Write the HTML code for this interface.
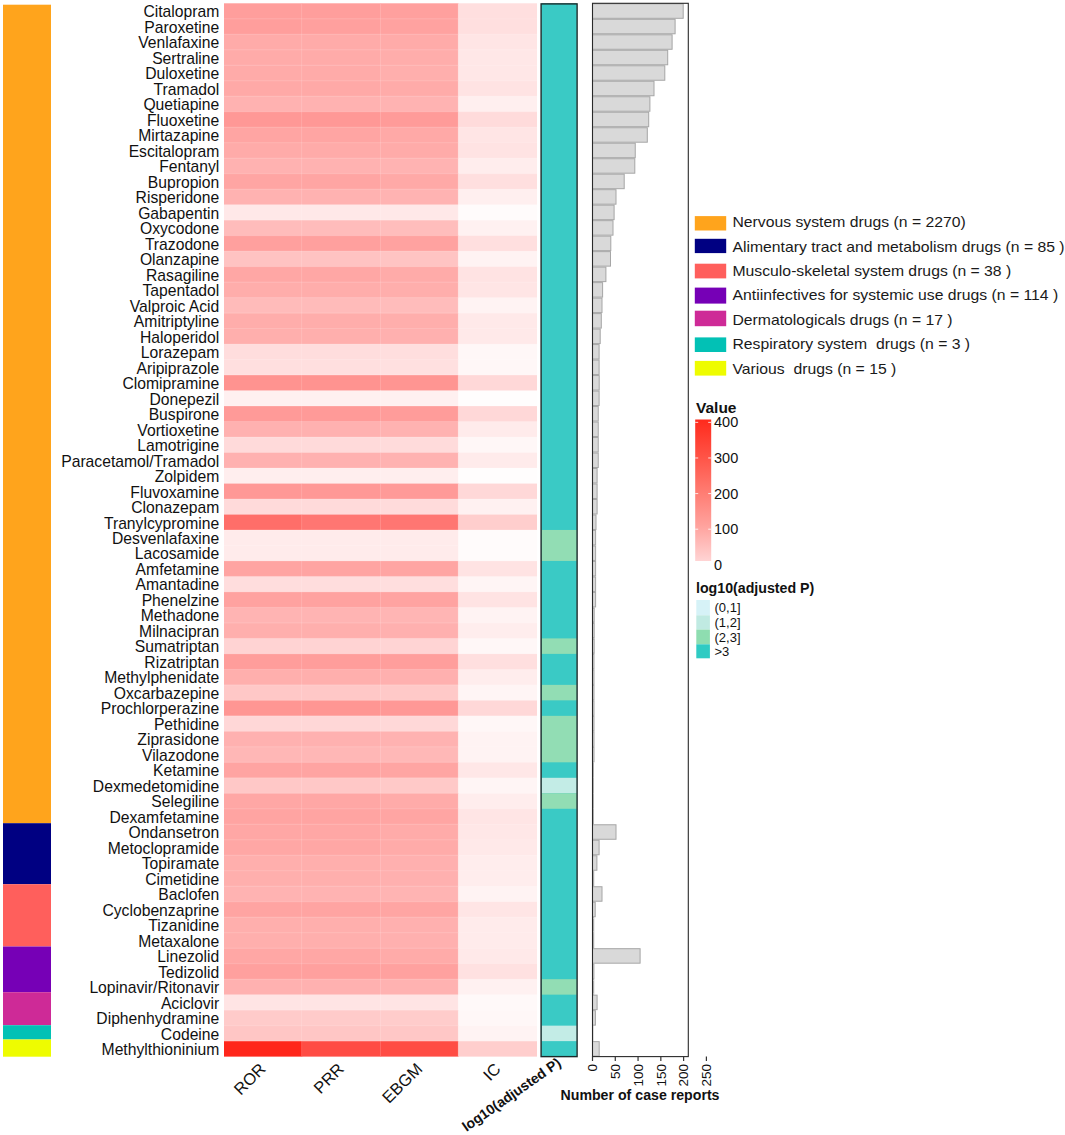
<!DOCTYPE html><html><head><meta charset="utf-8"><style>html,body{margin:0;padding:0;background:#fff;}</style></head><body><svg width="1065" height="1135" viewBox="0 0 1065 1135" style="display:block">
<rect x="0" y="0" width="1065" height="1135" fill="#fff"/>
<rect x="3" y="4.70" width="48" height="818.50" fill="#FFA41C"/>
<rect x="3" y="823.20" width="48" height="61.00" fill="#000082"/>
<rect x="3" y="884.20" width="48" height="62.30" fill="#FF5F5C"/>
<rect x="3" y="946.50" width="48" height="45.70" fill="#7600B6"/>
<rect x="3" y="992.20" width="48" height="33.00" fill="#CE2A97"/>
<rect x="3" y="1025.20" width="48" height="14.30" fill="#02C1B5"/>
<rect x="3" y="1039.50" width="48" height="17.20" fill="#EEFC00"/>
<rect x="224" y="3.30" width="78.20" height="16.090" fill="rgb(255,158,156)"/>
<rect x="301.6" y="3.30" width="79.50" height="16.090" fill="rgb(255,158,156)"/>
<rect x="380.5" y="3.30" width="78.30" height="16.090" fill="rgb(255,160,158)"/>
<rect x="458.2" y="3.30" width="78.80" height="16.090" fill="rgb(255,223,223)"/>
<rect x="224" y="18.79" width="78.20" height="16.090" fill="rgb(255,158,156)"/>
<rect x="301.6" y="18.79" width="79.50" height="16.090" fill="rgb(255,160,158)"/>
<rect x="380.5" y="18.79" width="78.30" height="16.090" fill="rgb(255,162,160)"/>
<rect x="458.2" y="18.79" width="78.80" height="16.090" fill="rgb(255,223,223)"/>
<rect x="224" y="34.28" width="78.20" height="16.090" fill="rgb(255,171,169)"/>
<rect x="301.6" y="34.28" width="79.50" height="16.090" fill="rgb(255,171,169)"/>
<rect x="380.5" y="34.28" width="78.30" height="16.090" fill="rgb(255,171,169)"/>
<rect x="458.2" y="34.28" width="78.80" height="16.090" fill="rgb(255,229,229)"/>
<rect x="224" y="49.77" width="78.20" height="16.090" fill="rgb(255,171,169)"/>
<rect x="301.6" y="49.77" width="79.50" height="16.090" fill="rgb(255,171,169)"/>
<rect x="380.5" y="49.77" width="78.30" height="16.090" fill="rgb(255,173,171)"/>
<rect x="458.2" y="49.77" width="78.80" height="16.090" fill="rgb(255,231,231)"/>
<rect x="224" y="65.26" width="78.20" height="16.090" fill="rgb(255,171,169)"/>
<rect x="301.6" y="65.26" width="79.50" height="16.090" fill="rgb(255,171,169)"/>
<rect x="380.5" y="65.26" width="78.30" height="16.090" fill="rgb(255,175,173)"/>
<rect x="458.2" y="65.26" width="78.80" height="16.090" fill="rgb(255,231,231)"/>
<rect x="224" y="80.75" width="78.20" height="16.090" fill="rgb(255,169,167)"/>
<rect x="301.6" y="80.75" width="79.50" height="16.090" fill="rgb(255,169,167)"/>
<rect x="380.5" y="80.75" width="78.30" height="16.090" fill="rgb(255,171,169)"/>
<rect x="458.2" y="80.75" width="78.80" height="16.090" fill="rgb(255,227,227)"/>
<rect x="224" y="96.24" width="78.20" height="16.090" fill="rgb(255,178,177)"/>
<rect x="301.6" y="96.24" width="79.50" height="16.090" fill="rgb(255,178,177)"/>
<rect x="380.5" y="96.24" width="78.30" height="16.090" fill="rgb(255,179,178)"/>
<rect x="458.2" y="96.24" width="78.80" height="16.090" fill="rgb(255,239,239)"/>
<rect x="224" y="111.73" width="78.20" height="16.090" fill="rgb(255,152,150)"/>
<rect x="301.6" y="111.73" width="79.50" height="16.090" fill="rgb(255,152,150)"/>
<rect x="380.5" y="111.73" width="78.30" height="16.090" fill="rgb(255,155,153)"/>
<rect x="458.2" y="111.73" width="78.80" height="16.090" fill="rgb(255,219,219)"/>
<rect x="224" y="127.22" width="78.20" height="16.090" fill="rgb(255,165,163)"/>
<rect x="301.6" y="127.22" width="79.50" height="16.090" fill="rgb(255,165,163)"/>
<rect x="380.5" y="127.22" width="78.30" height="16.090" fill="rgb(255,169,167)"/>
<rect x="458.2" y="127.22" width="78.80" height="16.090" fill="rgb(255,229,229)"/>
<rect x="224" y="142.71" width="78.20" height="16.090" fill="rgb(255,171,169)"/>
<rect x="301.6" y="142.71" width="79.50" height="16.090" fill="rgb(255,171,169)"/>
<rect x="380.5" y="142.71" width="78.30" height="16.090" fill="rgb(255,171,169)"/>
<rect x="458.2" y="142.71" width="78.80" height="16.090" fill="rgb(255,227,227)"/>
<rect x="224" y="158.20" width="78.20" height="16.090" fill="rgb(255,178,177)"/>
<rect x="301.6" y="158.20" width="79.50" height="16.090" fill="rgb(255,178,177)"/>
<rect x="380.5" y="158.20" width="78.30" height="16.090" fill="rgb(255,179,178)"/>
<rect x="458.2" y="158.20" width="78.80" height="16.090" fill="rgb(255,237,237)"/>
<rect x="224" y="173.69" width="78.20" height="16.090" fill="rgb(255,165,163)"/>
<rect x="301.6" y="173.69" width="79.50" height="16.090" fill="rgb(255,165,163)"/>
<rect x="380.5" y="173.69" width="78.30" height="16.090" fill="rgb(255,169,167)"/>
<rect x="458.2" y="173.69" width="78.80" height="16.090" fill="rgb(255,223,223)"/>
<rect x="224" y="189.18" width="78.20" height="16.090" fill="rgb(255,178,177)"/>
<rect x="301.6" y="189.18" width="79.50" height="16.090" fill="rgb(255,178,177)"/>
<rect x="380.5" y="189.18" width="78.30" height="16.090" fill="rgb(255,179,178)"/>
<rect x="458.2" y="189.18" width="78.80" height="16.090" fill="rgb(255,239,239)"/>
<rect x="224" y="204.67" width="78.20" height="16.090" fill="rgb(255,232,232)"/>
<rect x="301.6" y="204.67" width="79.50" height="16.090" fill="rgb(255,232,232)"/>
<rect x="380.5" y="204.67" width="78.30" height="16.090" fill="rgb(255,232,232)"/>
<rect x="458.2" y="204.67" width="78.80" height="16.090" fill="rgb(255,251,251)"/>
<rect x="224" y="220.16" width="78.20" height="16.090" fill="rgb(255,188,187)"/>
<rect x="301.6" y="220.16" width="79.50" height="16.090" fill="rgb(255,188,187)"/>
<rect x="380.5" y="220.16" width="78.30" height="16.090" fill="rgb(255,189,188)"/>
<rect x="458.2" y="220.16" width="78.80" height="16.090" fill="rgb(255,241,241)"/>
<rect x="224" y="235.65" width="78.20" height="16.090" fill="rgb(255,160,158)"/>
<rect x="301.6" y="235.65" width="79.50" height="16.090" fill="rgb(255,160,158)"/>
<rect x="380.5" y="235.65" width="78.30" height="16.090" fill="rgb(255,162,160)"/>
<rect x="458.2" y="235.65" width="78.80" height="16.090" fill="rgb(255,223,223)"/>
<rect x="224" y="251.14" width="78.20" height="16.090" fill="rgb(255,195,194)"/>
<rect x="301.6" y="251.14" width="79.50" height="16.090" fill="rgb(255,195,194)"/>
<rect x="380.5" y="251.14" width="78.30" height="16.090" fill="rgb(255,196,195)"/>
<rect x="458.2" y="251.14" width="78.80" height="16.090" fill="rgb(255,243,243)"/>
<rect x="224" y="266.63" width="78.20" height="16.090" fill="rgb(255,167,165)"/>
<rect x="301.6" y="266.63" width="79.50" height="16.090" fill="rgb(255,167,165)"/>
<rect x="380.5" y="266.63" width="78.30" height="16.090" fill="rgb(255,171,169)"/>
<rect x="458.2" y="266.63" width="78.80" height="16.090" fill="rgb(255,227,227)"/>
<rect x="224" y="282.12" width="78.20" height="16.090" fill="rgb(255,173,171)"/>
<rect x="301.6" y="282.12" width="79.50" height="16.090" fill="rgb(255,173,171)"/>
<rect x="380.5" y="282.12" width="78.30" height="16.090" fill="rgb(255,174,172)"/>
<rect x="458.2" y="282.12" width="78.80" height="16.090" fill="rgb(255,229,229)"/>
<rect x="224" y="297.61" width="78.20" height="16.090" fill="rgb(255,187,186)"/>
<rect x="301.6" y="297.61" width="79.50" height="16.090" fill="rgb(255,187,186)"/>
<rect x="380.5" y="297.61" width="78.30" height="16.090" fill="rgb(255,188,187)"/>
<rect x="458.2" y="297.61" width="78.80" height="16.090" fill="rgb(255,243,243)"/>
<rect x="224" y="313.10" width="78.20" height="16.090" fill="rgb(255,173,171)"/>
<rect x="301.6" y="313.10" width="79.50" height="16.090" fill="rgb(255,173,171)"/>
<rect x="380.5" y="313.10" width="78.30" height="16.090" fill="rgb(255,174,172)"/>
<rect x="458.2" y="313.10" width="78.80" height="16.090" fill="rgb(255,233,233)"/>
<rect x="224" y="328.59" width="78.20" height="16.090" fill="rgb(255,175,173)"/>
<rect x="301.6" y="328.59" width="79.50" height="16.090" fill="rgb(255,175,173)"/>
<rect x="380.5" y="328.59" width="78.30" height="16.090" fill="rgb(255,176,175)"/>
<rect x="458.2" y="328.59" width="78.80" height="16.090" fill="rgb(255,233,233)"/>
<rect x="224" y="344.08" width="78.20" height="16.090" fill="rgb(255,221,221)"/>
<rect x="301.6" y="344.08" width="79.50" height="16.090" fill="rgb(255,221,221)"/>
<rect x="380.5" y="344.08" width="78.30" height="16.090" fill="rgb(255,222,222)"/>
<rect x="458.2" y="344.08" width="78.80" height="16.090" fill="rgb(255,247,247)"/>
<rect x="224" y="359.57" width="78.20" height="16.090" fill="rgb(255,223,223)"/>
<rect x="301.6" y="359.57" width="79.50" height="16.090" fill="rgb(255,223,223)"/>
<rect x="380.5" y="359.57" width="78.30" height="16.090" fill="rgb(255,224,224)"/>
<rect x="458.2" y="359.57" width="78.80" height="16.090" fill="rgb(255,247,247)"/>
<rect x="224" y="375.06" width="78.20" height="16.090" fill="rgb(255,147,144)"/>
<rect x="301.6" y="375.06" width="79.50" height="16.090" fill="rgb(255,147,144)"/>
<rect x="380.5" y="375.06" width="78.30" height="16.090" fill="rgb(255,149,146)"/>
<rect x="458.2" y="375.06" width="78.80" height="16.090" fill="rgb(255,216,216)"/>
<rect x="224" y="390.55" width="78.20" height="16.090" fill="rgb(255,240,240)"/>
<rect x="301.6" y="390.55" width="79.50" height="16.090" fill="rgb(255,240,240)"/>
<rect x="380.5" y="390.55" width="78.30" height="16.090" fill="rgb(255,240,240)"/>
<rect x="458.2" y="390.55" width="78.80" height="16.090" fill="rgb(255,253,253)"/>
<rect x="224" y="406.04" width="78.20" height="16.090" fill="rgb(255,154,152)"/>
<rect x="301.6" y="406.04" width="79.50" height="16.090" fill="rgb(255,154,152)"/>
<rect x="380.5" y="406.04" width="78.30" height="16.090" fill="rgb(255,156,154)"/>
<rect x="458.2" y="406.04" width="78.80" height="16.090" fill="rgb(255,216,216)"/>
<rect x="224" y="421.53" width="78.20" height="16.090" fill="rgb(255,177,176)"/>
<rect x="301.6" y="421.53" width="79.50" height="16.090" fill="rgb(255,177,176)"/>
<rect x="380.5" y="421.53" width="78.30" height="16.090" fill="rgb(255,178,177)"/>
<rect x="458.2" y="421.53" width="78.80" height="16.090" fill="rgb(255,235,235)"/>
<rect x="224" y="437.02" width="78.20" height="16.090" fill="rgb(255,218,218)"/>
<rect x="301.6" y="437.02" width="79.50" height="16.090" fill="rgb(255,218,218)"/>
<rect x="380.5" y="437.02" width="78.30" height="16.090" fill="rgb(255,219,219)"/>
<rect x="458.2" y="437.02" width="78.80" height="16.090" fill="rgb(255,247,247)"/>
<rect x="224" y="452.51" width="78.20" height="16.090" fill="rgb(255,177,176)"/>
<rect x="301.6" y="452.51" width="79.50" height="16.090" fill="rgb(255,177,176)"/>
<rect x="380.5" y="452.51" width="78.30" height="16.090" fill="rgb(255,178,177)"/>
<rect x="458.2" y="452.51" width="78.80" height="16.090" fill="rgb(255,235,235)"/>
<rect x="224" y="468.00" width="78.20" height="16.090" fill="rgb(255,238,238)"/>
<rect x="301.6" y="468.00" width="79.50" height="16.090" fill="rgb(255,238,238)"/>
<rect x="380.5" y="468.00" width="78.30" height="16.090" fill="rgb(255,238,238)"/>
<rect x="458.2" y="468.00" width="78.80" height="16.090" fill="rgb(255,253,253)"/>
<rect x="224" y="483.49" width="78.20" height="16.090" fill="rgb(255,152,150)"/>
<rect x="301.6" y="483.49" width="79.50" height="16.090" fill="rgb(255,152,150)"/>
<rect x="380.5" y="483.49" width="78.30" height="16.090" fill="rgb(255,154,152)"/>
<rect x="458.2" y="483.49" width="78.80" height="16.090" fill="rgb(255,216,216)"/>
<rect x="224" y="498.98" width="78.20" height="16.090" fill="rgb(255,218,218)"/>
<rect x="301.6" y="498.98" width="79.50" height="16.090" fill="rgb(255,218,218)"/>
<rect x="380.5" y="498.98" width="78.30" height="16.090" fill="rgb(255,219,219)"/>
<rect x="458.2" y="498.98" width="78.80" height="16.090" fill="rgb(255,241,241)"/>
<rect x="224" y="514.47" width="78.20" height="16.090" fill="rgb(255,110,105)"/>
<rect x="301.6" y="514.47" width="79.50" height="16.090" fill="rgb(255,118,114)"/>
<rect x="380.5" y="514.47" width="78.30" height="16.090" fill="rgb(255,118,114)"/>
<rect x="458.2" y="514.47" width="78.80" height="16.090" fill="rgb(255,206,205)"/>
<rect x="224" y="529.96" width="78.20" height="16.090" fill="rgb(255,235,235)"/>
<rect x="301.6" y="529.96" width="79.50" height="16.090" fill="rgb(255,235,235)"/>
<rect x="380.5" y="529.96" width="78.30" height="16.090" fill="rgb(255,235,235)"/>
<rect x="458.2" y="529.96" width="78.80" height="16.090" fill="rgb(255,251,251)"/>
<rect x="224" y="545.45" width="78.20" height="16.090" fill="rgb(255,235,235)"/>
<rect x="301.6" y="545.45" width="79.50" height="16.090" fill="rgb(255,235,235)"/>
<rect x="380.5" y="545.45" width="78.30" height="16.090" fill="rgb(255,235,235)"/>
<rect x="458.2" y="545.45" width="78.80" height="16.090" fill="rgb(255,251,251)"/>
<rect x="224" y="560.94" width="78.20" height="16.090" fill="rgb(255,164,162)"/>
<rect x="301.6" y="560.94" width="79.50" height="16.090" fill="rgb(255,164,162)"/>
<rect x="380.5" y="560.94" width="78.30" height="16.090" fill="rgb(255,165,163)"/>
<rect x="458.2" y="560.94" width="78.80" height="16.090" fill="rgb(255,227,227)"/>
<rect x="224" y="576.43" width="78.20" height="16.090" fill="rgb(255,221,221)"/>
<rect x="301.6" y="576.43" width="79.50" height="16.090" fill="rgb(255,221,221)"/>
<rect x="380.5" y="576.43" width="78.30" height="16.090" fill="rgb(255,222,222)"/>
<rect x="458.2" y="576.43" width="78.80" height="16.090" fill="rgb(255,245,245)"/>
<rect x="224" y="591.92" width="78.20" height="16.090" fill="rgb(255,162,160)"/>
<rect x="301.6" y="591.92" width="79.50" height="16.090" fill="rgb(255,162,160)"/>
<rect x="380.5" y="591.92" width="78.30" height="16.090" fill="rgb(255,163,161)"/>
<rect x="458.2" y="591.92" width="78.80" height="16.090" fill="rgb(255,227,227)"/>
<rect x="224" y="607.41" width="78.20" height="16.090" fill="rgb(255,180,179)"/>
<rect x="301.6" y="607.41" width="79.50" height="16.090" fill="rgb(255,180,179)"/>
<rect x="380.5" y="607.41" width="78.30" height="16.090" fill="rgb(255,181,180)"/>
<rect x="458.2" y="607.41" width="78.80" height="16.090" fill="rgb(255,243,243)"/>
<rect x="224" y="622.90" width="78.20" height="16.090" fill="rgb(255,175,173)"/>
<rect x="301.6" y="622.90" width="79.50" height="16.090" fill="rgb(255,175,173)"/>
<rect x="380.5" y="622.90" width="78.30" height="16.090" fill="rgb(255,176,175)"/>
<rect x="458.2" y="622.90" width="78.80" height="16.090" fill="rgb(255,237,237)"/>
<rect x="224" y="638.39" width="78.20" height="16.090" fill="rgb(255,211,211)"/>
<rect x="301.6" y="638.39" width="79.50" height="16.090" fill="rgb(255,211,211)"/>
<rect x="380.5" y="638.39" width="78.30" height="16.090" fill="rgb(255,212,212)"/>
<rect x="458.2" y="638.39" width="78.80" height="16.090" fill="rgb(255,247,247)"/>
<rect x="224" y="653.88" width="78.20" height="16.090" fill="rgb(255,157,155)"/>
<rect x="301.6" y="653.88" width="79.50" height="16.090" fill="rgb(255,157,155)"/>
<rect x="380.5" y="653.88" width="78.30" height="16.090" fill="rgb(255,158,156)"/>
<rect x="458.2" y="653.88" width="78.80" height="16.090" fill="rgb(255,223,223)"/>
<rect x="224" y="669.37" width="78.20" height="16.090" fill="rgb(255,175,173)"/>
<rect x="301.6" y="669.37" width="79.50" height="16.090" fill="rgb(255,175,173)"/>
<rect x="380.5" y="669.37" width="78.30" height="16.090" fill="rgb(255,176,175)"/>
<rect x="458.2" y="669.37" width="78.80" height="16.090" fill="rgb(255,237,237)"/>
<rect x="224" y="684.86" width="78.20" height="16.090" fill="rgb(255,200,199)"/>
<rect x="301.6" y="684.86" width="79.50" height="16.090" fill="rgb(255,200,199)"/>
<rect x="380.5" y="684.86" width="78.30" height="16.090" fill="rgb(255,201,200)"/>
<rect x="458.2" y="684.86" width="78.80" height="16.090" fill="rgb(255,245,245)"/>
<rect x="224" y="700.35" width="78.20" height="16.090" fill="rgb(255,150,147)"/>
<rect x="301.6" y="700.35" width="79.50" height="16.090" fill="rgb(255,150,147)"/>
<rect x="380.5" y="700.35" width="78.30" height="16.090" fill="rgb(255,152,150)"/>
<rect x="458.2" y="700.35" width="78.80" height="16.090" fill="rgb(255,216,216)"/>
<rect x="224" y="715.84" width="78.20" height="16.090" fill="rgb(255,215,215)"/>
<rect x="301.6" y="715.84" width="79.50" height="16.090" fill="rgb(255,215,215)"/>
<rect x="380.5" y="715.84" width="78.30" height="16.090" fill="rgb(255,216,216)"/>
<rect x="458.2" y="715.84" width="78.80" height="16.090" fill="rgb(255,247,247)"/>
<rect x="224" y="731.33" width="78.20" height="16.090" fill="rgb(255,177,176)"/>
<rect x="301.6" y="731.33" width="79.50" height="16.090" fill="rgb(255,177,176)"/>
<rect x="380.5" y="731.33" width="78.30" height="16.090" fill="rgb(255,178,177)"/>
<rect x="458.2" y="731.33" width="78.80" height="16.090" fill="rgb(255,243,243)"/>
<rect x="224" y="746.82" width="78.20" height="16.090" fill="rgb(255,183,182)"/>
<rect x="301.6" y="746.82" width="79.50" height="16.090" fill="rgb(255,183,182)"/>
<rect x="380.5" y="746.82" width="78.30" height="16.090" fill="rgb(255,184,183)"/>
<rect x="458.2" y="746.82" width="78.80" height="16.090" fill="rgb(255,243,243)"/>
<rect x="224" y="762.31" width="78.20" height="16.090" fill="rgb(255,164,162)"/>
<rect x="301.6" y="762.31" width="79.50" height="16.090" fill="rgb(255,164,162)"/>
<rect x="380.5" y="762.31" width="78.30" height="16.090" fill="rgb(255,165,163)"/>
<rect x="458.2" y="762.31" width="78.80" height="16.090" fill="rgb(255,231,231)"/>
<rect x="224" y="777.80" width="78.20" height="16.090" fill="rgb(255,200,199)"/>
<rect x="301.6" y="777.80" width="79.50" height="16.090" fill="rgb(255,200,199)"/>
<rect x="380.5" y="777.80" width="78.30" height="16.090" fill="rgb(255,201,200)"/>
<rect x="458.2" y="777.80" width="78.80" height="16.090" fill="rgb(255,245,245)"/>
<rect x="224" y="793.29" width="78.20" height="16.090" fill="rgb(255,167,165)"/>
<rect x="301.6" y="793.29" width="79.50" height="16.090" fill="rgb(255,167,165)"/>
<rect x="380.5" y="793.29" width="78.30" height="16.090" fill="rgb(255,171,169)"/>
<rect x="458.2" y="793.29" width="78.80" height="16.090" fill="rgb(255,237,237)"/>
<rect x="224" y="808.78" width="78.20" height="16.090" fill="rgb(255,164,162)"/>
<rect x="301.6" y="808.78" width="79.50" height="16.090" fill="rgb(255,164,162)"/>
<rect x="380.5" y="808.78" width="78.30" height="16.090" fill="rgb(255,165,163)"/>
<rect x="458.2" y="808.78" width="78.80" height="16.090" fill="rgb(255,229,229)"/>
<rect x="224" y="824.27" width="78.20" height="16.090" fill="rgb(255,167,165)"/>
<rect x="301.6" y="824.27" width="79.50" height="16.090" fill="rgb(255,167,165)"/>
<rect x="380.5" y="824.27" width="78.30" height="16.090" fill="rgb(255,171,169)"/>
<rect x="458.2" y="824.27" width="78.80" height="16.090" fill="rgb(255,231,231)"/>
<rect x="224" y="839.76" width="78.20" height="16.090" fill="rgb(255,167,165)"/>
<rect x="301.6" y="839.76" width="79.50" height="16.090" fill="rgb(255,167,165)"/>
<rect x="380.5" y="839.76" width="78.30" height="16.090" fill="rgb(255,171,169)"/>
<rect x="458.2" y="839.76" width="78.80" height="16.090" fill="rgb(255,233,233)"/>
<rect x="224" y="855.25" width="78.20" height="16.090" fill="rgb(255,175,173)"/>
<rect x="301.6" y="855.25" width="79.50" height="16.090" fill="rgb(255,175,173)"/>
<rect x="380.5" y="855.25" width="78.30" height="16.090" fill="rgb(255,176,175)"/>
<rect x="458.2" y="855.25" width="78.80" height="16.090" fill="rgb(255,237,237)"/>
<rect x="224" y="870.74" width="78.20" height="16.090" fill="rgb(255,175,173)"/>
<rect x="301.6" y="870.74" width="79.50" height="16.090" fill="rgb(255,175,173)"/>
<rect x="380.5" y="870.74" width="78.30" height="16.090" fill="rgb(255,176,175)"/>
<rect x="458.2" y="870.74" width="78.80" height="16.090" fill="rgb(255,237,237)"/>
<rect x="224" y="886.23" width="78.20" height="16.090" fill="rgb(255,179,178)"/>
<rect x="301.6" y="886.23" width="79.50" height="16.090" fill="rgb(255,179,178)"/>
<rect x="380.5" y="886.23" width="78.30" height="16.090" fill="rgb(255,180,179)"/>
<rect x="458.2" y="886.23" width="78.80" height="16.090" fill="rgb(255,243,243)"/>
<rect x="224" y="901.72" width="78.20" height="16.090" fill="rgb(255,164,162)"/>
<rect x="301.6" y="901.72" width="79.50" height="16.090" fill="rgb(255,164,162)"/>
<rect x="380.5" y="901.72" width="78.30" height="16.090" fill="rgb(255,165,163)"/>
<rect x="458.2" y="901.72" width="78.80" height="16.090" fill="rgb(255,229,229)"/>
<rect x="224" y="917.21" width="78.20" height="16.090" fill="rgb(255,175,173)"/>
<rect x="301.6" y="917.21" width="79.50" height="16.090" fill="rgb(255,175,173)"/>
<rect x="380.5" y="917.21" width="78.30" height="16.090" fill="rgb(255,176,175)"/>
<rect x="458.2" y="917.21" width="78.80" height="16.090" fill="rgb(255,235,235)"/>
<rect x="224" y="932.70" width="78.20" height="16.090" fill="rgb(255,175,173)"/>
<rect x="301.6" y="932.70" width="79.50" height="16.090" fill="rgb(255,175,173)"/>
<rect x="380.5" y="932.70" width="78.30" height="16.090" fill="rgb(255,176,175)"/>
<rect x="458.2" y="932.70" width="78.80" height="16.090" fill="rgb(255,235,235)"/>
<rect x="224" y="948.19" width="78.20" height="16.090" fill="rgb(255,167,165)"/>
<rect x="301.6" y="948.19" width="79.50" height="16.090" fill="rgb(255,167,165)"/>
<rect x="380.5" y="948.19" width="78.30" height="16.090" fill="rgb(255,171,169)"/>
<rect x="458.2" y="948.19" width="78.80" height="16.090" fill="rgb(255,233,233)"/>
<rect x="224" y="963.68" width="78.20" height="16.090" fill="rgb(255,160,158)"/>
<rect x="301.6" y="963.68" width="79.50" height="16.090" fill="rgb(255,160,158)"/>
<rect x="380.5" y="963.68" width="78.30" height="16.090" fill="rgb(255,161,159)"/>
<rect x="458.2" y="963.68" width="78.80" height="16.090" fill="rgb(255,225,225)"/>
<rect x="224" y="979.17" width="78.20" height="16.090" fill="rgb(255,177,176)"/>
<rect x="301.6" y="979.17" width="79.50" height="16.090" fill="rgb(255,177,176)"/>
<rect x="380.5" y="979.17" width="78.30" height="16.090" fill="rgb(255,178,177)"/>
<rect x="458.2" y="979.17" width="78.80" height="16.090" fill="rgb(255,241,241)"/>
<rect x="224" y="994.66" width="78.20" height="16.090" fill="rgb(255,228,228)"/>
<rect x="301.6" y="994.66" width="79.50" height="16.090" fill="rgb(255,228,228)"/>
<rect x="380.5" y="994.66" width="78.30" height="16.090" fill="rgb(255,228,228)"/>
<rect x="458.2" y="994.66" width="78.80" height="16.090" fill="rgb(255,249,249)"/>
<rect x="224" y="1010.15" width="78.20" height="16.090" fill="rgb(255,203,202)"/>
<rect x="301.6" y="1010.15" width="79.50" height="16.090" fill="rgb(255,203,202)"/>
<rect x="380.5" y="1010.15" width="78.30" height="16.090" fill="rgb(255,204,203)"/>
<rect x="458.2" y="1010.15" width="78.80" height="16.090" fill="rgb(255,247,247)"/>
<rect x="224" y="1025.64" width="78.20" height="16.090" fill="rgb(255,198,197)"/>
<rect x="301.6" y="1025.64" width="79.50" height="16.090" fill="rgb(255,198,197)"/>
<rect x="380.5" y="1025.64" width="78.30" height="16.090" fill="rgb(255,199,198)"/>
<rect x="458.2" y="1025.64" width="78.80" height="16.090" fill="rgb(255,243,243)"/>
<rect x="224" y="1041.13" width="78.20" height="15.490" fill="rgb(255,38,27)"/>
<rect x="301.6" y="1041.13" width="79.50" height="15.490" fill="rgb(255,76,68)"/>
<rect x="380.5" y="1041.13" width="78.30" height="15.490" fill="rgb(255,76,68)"/>
<rect x="458.2" y="1041.13" width="78.80" height="15.490" fill="rgb(255,206,205)"/>
<rect x="224" y="18.29" width="313" height="1" fill="#fff" fill-opacity="0.16"/>
<rect x="224" y="33.78" width="313" height="1" fill="#fff" fill-opacity="0.16"/>
<rect x="224" y="49.27" width="313" height="1" fill="#fff" fill-opacity="0.16"/>
<rect x="224" y="64.76" width="313" height="1" fill="#fff" fill-opacity="0.16"/>
<rect x="224" y="80.25" width="313" height="1" fill="#fff" fill-opacity="0.16"/>
<rect x="224" y="95.74" width="313" height="1" fill="#fff" fill-opacity="0.16"/>
<rect x="224" y="111.23" width="313" height="1" fill="#fff" fill-opacity="0.16"/>
<rect x="224" y="126.72" width="313" height="1" fill="#fff" fill-opacity="0.16"/>
<rect x="224" y="142.21" width="313" height="1" fill="#fff" fill-opacity="0.16"/>
<rect x="224" y="157.70" width="313" height="1" fill="#fff" fill-opacity="0.16"/>
<rect x="224" y="173.19" width="313" height="1" fill="#fff" fill-opacity="0.16"/>
<rect x="224" y="188.68" width="313" height="1" fill="#fff" fill-opacity="0.16"/>
<rect x="224" y="204.17" width="313" height="1" fill="#fff" fill-opacity="0.16"/>
<rect x="224" y="219.66" width="313" height="1" fill="#fff" fill-opacity="0.16"/>
<rect x="224" y="235.15" width="313" height="1" fill="#fff" fill-opacity="0.16"/>
<rect x="224" y="250.64" width="313" height="1" fill="#fff" fill-opacity="0.16"/>
<rect x="224" y="266.13" width="313" height="1" fill="#fff" fill-opacity="0.16"/>
<rect x="224" y="281.62" width="313" height="1" fill="#fff" fill-opacity="0.16"/>
<rect x="224" y="297.11" width="313" height="1" fill="#fff" fill-opacity="0.16"/>
<rect x="224" y="312.60" width="313" height="1" fill="#fff" fill-opacity="0.16"/>
<rect x="224" y="328.09" width="313" height="1" fill="#fff" fill-opacity="0.16"/>
<rect x="224" y="343.58" width="313" height="1" fill="#fff" fill-opacity="0.16"/>
<rect x="224" y="359.07" width="313" height="1" fill="#fff" fill-opacity="0.16"/>
<rect x="224" y="374.56" width="313" height="1" fill="#fff" fill-opacity="0.16"/>
<rect x="224" y="390.05" width="313" height="1" fill="#fff" fill-opacity="0.16"/>
<rect x="224" y="405.54" width="313" height="1" fill="#fff" fill-opacity="0.16"/>
<rect x="224" y="421.03" width="313" height="1" fill="#fff" fill-opacity="0.16"/>
<rect x="224" y="436.52" width="313" height="1" fill="#fff" fill-opacity="0.16"/>
<rect x="224" y="452.01" width="313" height="1" fill="#fff" fill-opacity="0.16"/>
<rect x="224" y="467.50" width="313" height="1" fill="#fff" fill-opacity="0.16"/>
<rect x="224" y="482.99" width="313" height="1" fill="#fff" fill-opacity="0.16"/>
<rect x="224" y="498.48" width="313" height="1" fill="#fff" fill-opacity="0.16"/>
<rect x="224" y="513.97" width="313" height="1" fill="#fff" fill-opacity="0.16"/>
<rect x="224" y="529.46" width="313" height="1" fill="#fff" fill-opacity="0.16"/>
<rect x="224" y="544.95" width="313" height="1" fill="#fff" fill-opacity="0.16"/>
<rect x="224" y="560.44" width="313" height="1" fill="#fff" fill-opacity="0.16"/>
<rect x="224" y="575.93" width="313" height="1" fill="#fff" fill-opacity="0.16"/>
<rect x="224" y="591.42" width="313" height="1" fill="#fff" fill-opacity="0.16"/>
<rect x="224" y="606.91" width="313" height="1" fill="#fff" fill-opacity="0.16"/>
<rect x="224" y="622.40" width="313" height="1" fill="#fff" fill-opacity="0.16"/>
<rect x="224" y="637.89" width="313" height="1" fill="#fff" fill-opacity="0.16"/>
<rect x="224" y="653.38" width="313" height="1" fill="#fff" fill-opacity="0.16"/>
<rect x="224" y="668.87" width="313" height="1" fill="#fff" fill-opacity="0.16"/>
<rect x="224" y="684.36" width="313" height="1" fill="#fff" fill-opacity="0.16"/>
<rect x="224" y="699.85" width="313" height="1" fill="#fff" fill-opacity="0.16"/>
<rect x="224" y="715.34" width="313" height="1" fill="#fff" fill-opacity="0.16"/>
<rect x="224" y="730.83" width="313" height="1" fill="#fff" fill-opacity="0.16"/>
<rect x="224" y="746.32" width="313" height="1" fill="#fff" fill-opacity="0.16"/>
<rect x="224" y="761.81" width="313" height="1" fill="#fff" fill-opacity="0.16"/>
<rect x="224" y="777.30" width="313" height="1" fill="#fff" fill-opacity="0.16"/>
<rect x="224" y="792.79" width="313" height="1" fill="#fff" fill-opacity="0.16"/>
<rect x="224" y="808.28" width="313" height="1" fill="#fff" fill-opacity="0.16"/>
<rect x="224" y="823.77" width="313" height="1" fill="#fff" fill-opacity="0.16"/>
<rect x="224" y="839.26" width="313" height="1" fill="#fff" fill-opacity="0.16"/>
<rect x="224" y="854.75" width="313" height="1" fill="#fff" fill-opacity="0.16"/>
<rect x="224" y="870.24" width="313" height="1" fill="#fff" fill-opacity="0.16"/>
<rect x="224" y="885.73" width="313" height="1" fill="#fff" fill-opacity="0.16"/>
<rect x="224" y="901.22" width="313" height="1" fill="#fff" fill-opacity="0.16"/>
<rect x="224" y="916.71" width="313" height="1" fill="#fff" fill-opacity="0.16"/>
<rect x="224" y="932.20" width="313" height="1" fill="#fff" fill-opacity="0.16"/>
<rect x="224" y="947.69" width="313" height="1" fill="#fff" fill-opacity="0.16"/>
<rect x="224" y="963.18" width="313" height="1" fill="#fff" fill-opacity="0.16"/>
<rect x="224" y="978.67" width="313" height="1" fill="#fff" fill-opacity="0.16"/>
<rect x="224" y="994.16" width="313" height="1" fill="#fff" fill-opacity="0.16"/>
<rect x="224" y="1009.65" width="313" height="1" fill="#fff" fill-opacity="0.16"/>
<rect x="224" y="1025.14" width="313" height="1" fill="#fff" fill-opacity="0.16"/>
<rect x="224" y="1040.63" width="313" height="1" fill="#fff" fill-opacity="0.16"/>
<rect x="301.1" y="3.3" width="1" height="1053.32" fill="#fff" fill-opacity="0.16"/>
<rect x="380.0" y="3.3" width="1" height="1053.32" fill="#fff" fill-opacity="0.16"/>
<rect x="457.7" y="3.3" width="1" height="1053.32" fill="#fff" fill-opacity="0.16"/>
<g font-family="Liberation Sans, sans-serif" font-size="15.7" fill="#111" text-anchor="end">
<text x="219.3" y="17.34">Citalopram</text>
<text x="219.3" y="32.84">Paroxetine</text>
<text x="219.3" y="48.32">Venlafaxine</text>
<text x="219.3" y="63.81">Sertraline</text>
<text x="219.3" y="79.31">Duloxetine</text>
<text x="219.3" y="94.80">Tramadol</text>
<text x="219.3" y="110.28">Quetiapine</text>
<text x="219.3" y="125.78">Fluoxetine</text>
<text x="219.3" y="141.27">Mirtazapine</text>
<text x="219.3" y="156.76">Escitalopram</text>
<text x="219.3" y="172.25">Fentanyl</text>
<text x="219.3" y="187.74">Bupropion</text>
<text x="219.3" y="203.23">Risperidone</text>
<text x="219.3" y="218.72">Gabapentin</text>
<text x="219.3" y="234.21">Oxycodone</text>
<text x="219.3" y="249.70">Trazodone</text>
<text x="219.3" y="265.19">Olanzapine</text>
<text x="219.3" y="280.68">Rasagiline</text>
<text x="219.3" y="296.17">Tapentadol</text>
<text x="219.3" y="311.66">Valproic Acid</text>
<text x="219.3" y="327.15">Amitriptyline</text>
<text x="219.3" y="342.64">Haloperidol</text>
<text x="219.3" y="358.13">Lorazepam</text>
<text x="219.3" y="373.62">Aripiprazole</text>
<text x="219.3" y="389.11">Clomipramine</text>
<text x="219.3" y="404.60">Donepezil</text>
<text x="219.3" y="420.09">Buspirone</text>
<text x="219.3" y="435.58">Vortioxetine</text>
<text x="219.3" y="451.07">Lamotrigine</text>
<text x="219.3" y="466.56">Paracetamol/Tramadol</text>
<text x="219.3" y="482.05">Zolpidem</text>
<text x="219.3" y="497.54">Fluvoxamine</text>
<text x="219.3" y="513.02">Clonazepam</text>
<text x="219.3" y="528.51">Tranylcypromine</text>
<text x="219.3" y="544.00">Desvenlafaxine</text>
<text x="219.3" y="559.49">Lacosamide</text>
<text x="219.3" y="574.98">Amfetamine</text>
<text x="219.3" y="590.47">Amantadine</text>
<text x="219.3" y="605.96">Phenelzine</text>
<text x="219.3" y="621.45">Methadone</text>
<text x="219.3" y="636.94">Milnacipran</text>
<text x="219.3" y="652.43">Sumatriptan</text>
<text x="219.3" y="667.92">Rizatriptan</text>
<text x="219.3" y="683.41">Methylphenidate</text>
<text x="219.3" y="698.90">Oxcarbazepine</text>
<text x="219.3" y="714.39">Prochlorperazine</text>
<text x="219.3" y="729.88">Pethidine</text>
<text x="219.3" y="745.37">Ziprasidone</text>
<text x="219.3" y="760.86">Vilazodone</text>
<text x="219.3" y="776.35">Ketamine</text>
<text x="219.3" y="791.84">Dexmedetomidine</text>
<text x="219.3" y="807.33">Selegiline</text>
<text x="219.3" y="822.82">Dexamfetamine</text>
<text x="219.3" y="838.31">Ondansetron</text>
<text x="219.3" y="853.80">Metoclopramide</text>
<text x="219.3" y="869.29">Topiramate</text>
<text x="219.3" y="884.78">Cimetidine</text>
<text x="219.3" y="900.27">Baclofen</text>
<text x="219.3" y="915.76">Cyclobenzaprine</text>
<text x="219.3" y="931.25">Tizanidine</text>
<text x="219.3" y="946.74">Metaxalone</text>
<text x="219.3" y="962.23">Linezolid</text>
<text x="219.3" y="977.72">Tedizolid</text>
<text x="219.3" y="993.21">Lopinavir/Ritonavir</text>
<text x="219.3" y="1008.70">Aciclovir</text>
<text x="219.3" y="1024.19">Diphenhydramine</text>
<text x="219.3" y="1039.68">Codeine</text>
<text x="219.3" y="1055.17">Methylthioninium</text>
</g>
<rect x="541.3" y="3.30" width="35.6" height="1053.320" fill="#3ACAC5"/>
<rect x="541.3" y="529.96" width="35.6" height="30.980" fill="#92DDB4"/>
<rect x="541.3" y="638.39" width="35.6" height="15.490" fill="#92DDB4"/>
<rect x="541.3" y="684.86" width="35.6" height="15.490" fill="#92DDB4"/>
<rect x="541.3" y="715.84" width="35.6" height="46.470" fill="#92DDB4"/>
<rect x="541.3" y="777.80" width="35.6" height="15.490" fill="#C3ECE6"/>
<rect x="541.3" y="793.29" width="35.6" height="15.490" fill="#92DDB4"/>
<rect x="541.3" y="979.17" width="35.6" height="15.490" fill="#92DDB4"/>
<rect x="541.3" y="1025.64" width="35.6" height="15.490" fill="#C3ECE6"/>
<rect x="541.1" y="3.90" width="36" height="1052.72" fill="none" stroke="#1a2a2a" stroke-width="1.4"/>
<rect x="592.5" y="3.80" width="90.70" height="14.490" fill="#D9D9D9" stroke="#A6A6A6" stroke-width="1"/>
<rect x="592.5" y="19.29" width="82.60" height="14.490" fill="#D9D9D9" stroke="#A6A6A6" stroke-width="1"/>
<rect x="592.5" y="34.78" width="79.60" height="14.490" fill="#D9D9D9" stroke="#A6A6A6" stroke-width="1"/>
<rect x="592.5" y="50.27" width="75.20" height="14.490" fill="#D9D9D9" stroke="#A6A6A6" stroke-width="1"/>
<rect x="592.5" y="65.76" width="72.30" height="14.490" fill="#D9D9D9" stroke="#A6A6A6" stroke-width="1"/>
<rect x="592.5" y="81.25" width="61.50" height="14.490" fill="#D9D9D9" stroke="#A6A6A6" stroke-width="1"/>
<rect x="592.5" y="96.74" width="57.40" height="14.490" fill="#D9D9D9" stroke="#A6A6A6" stroke-width="1"/>
<rect x="592.5" y="112.23" width="56.20" height="14.490" fill="#D9D9D9" stroke="#A6A6A6" stroke-width="1"/>
<rect x="592.5" y="127.72" width="54.80" height="14.490" fill="#D9D9D9" stroke="#A6A6A6" stroke-width="1"/>
<rect x="592.5" y="143.21" width="42.75" height="14.490" fill="#D9D9D9" stroke="#A6A6A6" stroke-width="1"/>
<rect x="592.5" y="158.70" width="42.30" height="14.490" fill="#D9D9D9" stroke="#A6A6A6" stroke-width="1"/>
<rect x="592.5" y="174.19" width="31.70" height="14.490" fill="#D9D9D9" stroke="#A6A6A6" stroke-width="1"/>
<rect x="592.5" y="189.68" width="23.50" height="14.490" fill="#D9D9D9" stroke="#A6A6A6" stroke-width="1"/>
<rect x="592.5" y="205.17" width="21.60" height="14.490" fill="#D9D9D9" stroke="#A6A6A6" stroke-width="1"/>
<rect x="592.5" y="220.66" width="20.50" height="14.490" fill="#D9D9D9" stroke="#A6A6A6" stroke-width="1"/>
<rect x="592.5" y="236.15" width="18.30" height="14.490" fill="#D9D9D9" stroke="#A6A6A6" stroke-width="1"/>
<rect x="592.5" y="251.64" width="18.00" height="14.490" fill="#D9D9D9" stroke="#A6A6A6" stroke-width="1"/>
<rect x="592.5" y="267.13" width="13.40" height="14.490" fill="#D9D9D9" stroke="#A6A6A6" stroke-width="1"/>
<rect x="592.5" y="282.62" width="10.10" height="14.490" fill="#D9D9D9" stroke="#A6A6A6" stroke-width="1"/>
<rect x="592.5" y="298.11" width="9.50" height="14.490" fill="#D9D9D9" stroke="#A6A6A6" stroke-width="1"/>
<rect x="592.5" y="313.60" width="8.80" height="14.490" fill="#D9D9D9" stroke="#A6A6A6" stroke-width="1"/>
<rect x="592.5" y="329.09" width="7.70" height="14.490" fill="#D9D9D9" stroke="#A6A6A6" stroke-width="1"/>
<rect x="592.5" y="344.58" width="6.60" height="14.490" fill="#D9D9D9" stroke="#A6A6A6" stroke-width="1"/>
<rect x="592.5" y="360.07" width="6.60" height="14.490" fill="#D9D9D9" stroke="#A6A6A6" stroke-width="1"/>
<rect x="592.5" y="375.56" width="6.70" height="14.490" fill="#D9D9D9" stroke="#A6A6A6" stroke-width="1"/>
<rect x="592.5" y="391.05" width="6.60" height="14.490" fill="#D9D9D9" stroke="#A6A6A6" stroke-width="1"/>
<rect x="592.5" y="406.54" width="5.75" height="14.490" fill="#D9D9D9" stroke="#A6A6A6" stroke-width="1"/>
<rect x="592.5" y="422.03" width="5.75" height="14.490" fill="#D9D9D9" stroke="#A6A6A6" stroke-width="1"/>
<rect x="592.5" y="437.52" width="5.75" height="14.490" fill="#D9D9D9" stroke="#A6A6A6" stroke-width="1"/>
<rect x="592.5" y="453.01" width="5.75" height="14.490" fill="#D9D9D9" stroke="#A6A6A6" stroke-width="1"/>
<rect x="592.5" y="468.50" width="4.60" height="14.490" fill="#D9D9D9" stroke="#A6A6A6" stroke-width="1"/>
<rect x="592.5" y="483.99" width="4.60" height="14.490" fill="#D9D9D9" stroke="#A6A6A6" stroke-width="1"/>
<rect x="592.5" y="499.48" width="4.60" height="14.490" fill="#D9D9D9" stroke="#A6A6A6" stroke-width="1"/>
<rect x="592.5" y="514.97" width="3.50" height="14.490" fill="#D9D9D9" stroke="#A6A6A6" stroke-width="1"/>
<rect x="592.5" y="530.46" width="3.10" height="14.490" fill="#D9D9D9" stroke="#A6A6A6" stroke-width="1"/>
<rect x="592.5" y="545.95" width="3.10" height="14.490" fill="#D9D9D9" stroke="#A6A6A6" stroke-width="1"/>
<rect x="592.5" y="561.44" width="3.10" height="14.490" fill="#D9D9D9" stroke="#A6A6A6" stroke-width="1"/>
<rect x="592.5" y="576.93" width="3.10" height="14.490" fill="#D9D9D9" stroke="#A6A6A6" stroke-width="1"/>
<rect x="592.5" y="592.42" width="3.10" height="14.490" fill="#D9D9D9" stroke="#A6A6A6" stroke-width="1"/>
<rect x="592.5" y="607.91" width="1.70" height="14.490" fill="#D9D9D9" stroke="#A6A6A6" stroke-width="1"/>
<rect x="592.5" y="623.40" width="1.70" height="14.490" fill="#D9D9D9" stroke="#A6A6A6" stroke-width="1"/>
<rect x="592.5" y="638.89" width="1.70" height="14.490" fill="#D9D9D9" stroke="#A6A6A6" stroke-width="1"/>
<rect x="592.5" y="654.38" width="1.50" height="14.490" fill="#D9D9D9" stroke="#A6A6A6" stroke-width="1"/>
<rect x="592.5" y="669.87" width="1.50" height="14.490" fill="#D9D9D9" stroke="#A6A6A6" stroke-width="1"/>
<rect x="592.5" y="685.36" width="1.50" height="14.490" fill="#D9D9D9" stroke="#A6A6A6" stroke-width="1"/>
<rect x="592.5" y="700.85" width="1.50" height="14.490" fill="#D9D9D9" stroke="#A6A6A6" stroke-width="1"/>
<rect x="592.5" y="716.34" width="1.50" height="14.490" fill="#D9D9D9" stroke="#A6A6A6" stroke-width="1"/>
<rect x="592.5" y="731.83" width="1.50" height="14.490" fill="#D9D9D9" stroke="#A6A6A6" stroke-width="1"/>
<rect x="592.5" y="747.32" width="1.50" height="14.490" fill="#D9D9D9" stroke="#A6A6A6" stroke-width="1"/>
<rect x="592.5" y="762.81" width="0.80" height="14.490" fill="#D9D9D9" stroke="#A6A6A6" stroke-width="1"/>
<rect x="592.5" y="778.30" width="0.80" height="14.490" fill="#D9D9D9" stroke="#A6A6A6" stroke-width="1"/>
<rect x="592.5" y="793.79" width="0.80" height="14.490" fill="#D9D9D9" stroke="#A6A6A6" stroke-width="1"/>
<rect x="592.5" y="809.28" width="0.80" height="14.490" fill="#D9D9D9" stroke="#A6A6A6" stroke-width="1"/>
<rect x="592.5" y="824.77" width="23.50" height="14.490" fill="#D9D9D9" stroke="#A6A6A6" stroke-width="1"/>
<rect x="592.5" y="840.26" width="6.60" height="14.490" fill="#D9D9D9" stroke="#A6A6A6" stroke-width="1"/>
<rect x="592.5" y="855.75" width="4.40" height="14.490" fill="#D9D9D9" stroke="#A6A6A6" stroke-width="1"/>
<rect x="592.5" y="871.24" width="1.20" height="14.490" fill="#D9D9D9" stroke="#A6A6A6" stroke-width="1"/>
<rect x="592.5" y="886.73" width="9.50" height="14.490" fill="#D9D9D9" stroke="#A6A6A6" stroke-width="1"/>
<rect x="592.5" y="902.22" width="2.70" height="14.490" fill="#D9D9D9" stroke="#A6A6A6" stroke-width="1"/>
<rect x="592.5" y="917.71" width="1.20" height="14.490" fill="#D9D9D9" stroke="#A6A6A6" stroke-width="1"/>
<rect x="592.5" y="933.20" width="1.20" height="14.490" fill="#D9D9D9" stroke="#A6A6A6" stroke-width="1"/>
<rect x="592.5" y="948.69" width="47.60" height="14.490" fill="#D9D9D9" stroke="#A6A6A6" stroke-width="1"/>
<rect x="592.5" y="964.18" width="1.40" height="14.490" fill="#D9D9D9" stroke="#A6A6A6" stroke-width="1"/>
<rect x="592.5" y="979.67" width="1.20" height="14.490" fill="#D9D9D9" stroke="#A6A6A6" stroke-width="1"/>
<rect x="592.5" y="995.16" width="4.60" height="14.490" fill="#D9D9D9" stroke="#A6A6A6" stroke-width="1"/>
<rect x="592.5" y="1010.65" width="2.90" height="14.490" fill="#D9D9D9" stroke="#A6A6A6" stroke-width="1"/>
<rect x="592.5" y="1026.14" width="0.30" height="14.490" fill="#D9D9D9" stroke="#A6A6A6" stroke-width="1"/>
<rect x="592.5" y="1041.63" width="6.70" height="14.490" fill="#D9D9D9" stroke="#A6A6A6" stroke-width="1"/>
<rect x="592.5" y="3.3" width="95.80" height="1053.30" fill="none" stroke="#2a2a2a" stroke-width="1.1"/>
<line x1="592.50" y1="1056.6" x2="592.50" y2="1061" stroke="#333" stroke-width="1.2"/>
<text font-family="Liberation Sans, sans-serif" font-size="13.5" fill="#111" text-anchor="end" transform="translate(597.30,1064) rotate(-90)">0</text>
<line x1="615.28" y1="1056.6" x2="615.28" y2="1061" stroke="#333" stroke-width="1.2"/>
<text font-family="Liberation Sans, sans-serif" font-size="13.5" fill="#111" text-anchor="end" transform="translate(620.08,1064) rotate(-90)">50</text>
<line x1="638.06" y1="1056.6" x2="638.06" y2="1061" stroke="#333" stroke-width="1.2"/>
<text font-family="Liberation Sans, sans-serif" font-size="13.5" fill="#111" text-anchor="end" transform="translate(642.86,1064) rotate(-90)">100</text>
<line x1="660.84" y1="1056.6" x2="660.84" y2="1061" stroke="#333" stroke-width="1.2"/>
<text font-family="Liberation Sans, sans-serif" font-size="13.5" fill="#111" text-anchor="end" transform="translate(665.64,1064) rotate(-90)">150</text>
<line x1="683.62" y1="1056.6" x2="683.62" y2="1061" stroke="#333" stroke-width="1.2"/>
<text font-family="Liberation Sans, sans-serif" font-size="13.5" fill="#111" text-anchor="end" transform="translate(688.42,1064) rotate(-90)">200</text>
<line x1="706.40" y1="1056.6" x2="706.40" y2="1061" stroke="#333" stroke-width="1.2"/>
<text font-family="Liberation Sans, sans-serif" font-size="13.5" fill="#111" text-anchor="end" transform="translate(711.20,1064) rotate(-90)">250</text>
<text x="560.5" y="1099.9" font-family="Liberation Sans, sans-serif" font-weight="bold" font-size="14" fill="#111" textLength="159" lengthAdjust="spacingAndGlyphs">Number of case reports</text>
<text font-family="Liberation Sans, sans-serif" font-size="16.5" fill="#111" text-anchor="end" transform="translate(266.80,1070) rotate(-45)">ROR</text>
<text font-family="Liberation Sans, sans-serif" font-size="16.5" fill="#111" text-anchor="end" transform="translate(345.05,1070) rotate(-45)">PRR</text>
<text font-family="Liberation Sans, sans-serif" font-size="16.5" fill="#111" text-anchor="end" transform="translate(423.35,1070) rotate(-45)">EBGM</text>
<text font-family="Liberation Sans, sans-serif" font-size="16.5" fill="#111" text-anchor="end" transform="translate(501.60,1070) rotate(-45)">IC</text>
<text font-family="Liberation Sans, sans-serif" font-weight="bold" font-size="14" fill="#111" text-anchor="end" transform="translate(562,1065) rotate(-35)">log10(adjusted P)</text>
<rect x="694.8" y="216.1" width="31.4" height="14.40" fill="#FFA41C"/>
<text x="732.5" y="227.0" font-family="Liberation Sans, sans-serif" font-size="14.4" fill="#1a1a1a" style="white-space:pre" transform="translate(732.5,0) scale(1.095,1) translate(-732.5,0)">Nervous system drugs (n = 2270)</text>
<rect x="694.8" y="238.8" width="31.4" height="14.30" fill="#000082"/>
<text x="732.5" y="251.7" font-family="Liberation Sans, sans-serif" font-size="14.4" fill="#1a1a1a" style="white-space:pre" transform="translate(732.5,0) scale(1.095,1) translate(-732.5,0)">Alimentary tract and metabolism drugs (n = 85 )</text>
<rect x="694.8" y="263.7" width="31.4" height="14.70" fill="#FF5F5C"/>
<text x="732.5" y="276.5" font-family="Liberation Sans, sans-serif" font-size="14.4" fill="#1a1a1a" style="white-space:pre" transform="translate(732.5,0) scale(1.095,1) translate(-732.5,0)">Musculo-skeletal system drugs (n = 38 )</text>
<rect x="694.8" y="287.6" width="31.4" height="16.00" fill="#7600B6"/>
<text x="732.5" y="299.9" font-family="Liberation Sans, sans-serif" font-size="14.4" fill="#1a1a1a" style="white-space:pre" transform="translate(732.5,0) scale(1.095,1) translate(-732.5,0)">Antiinfectives for systemic use drugs (n = 114 )</text>
<rect x="694.8" y="310.7" width="31.4" height="15.50" fill="#CE2A97"/>
<text x="732.5" y="325.0" font-family="Liberation Sans, sans-serif" font-size="14.4" fill="#1a1a1a" style="white-space:pre" transform="translate(732.5,0) scale(1.095,1) translate(-732.5,0)">Dermatologicals drugs (n = 17 )</text>
<rect x="694.8" y="337.4" width="31.4" height="14.60" fill="#02C1B5"/>
<text x="732.5" y="349.5" font-family="Liberation Sans, sans-serif" font-size="14.4" fill="#1a1a1a" style="white-space:pre" transform="translate(732.5,0) scale(1.095,1) translate(-732.5,0)">Respiratory system  drugs (n = 3 )</text>
<rect x="694.8" y="360.9" width="31.4" height="14.70" fill="#EEFC00"/>
<text x="732.5" y="373.9" font-family="Liberation Sans, sans-serif" font-size="14.4" fill="#1a1a1a" style="white-space:pre" transform="translate(732.5,0) scale(1.095,1) translate(-732.5,0)">Various  drugs (n = 15 )</text>
<text x="696" y="412.7" font-family="Liberation Sans, sans-serif" font-weight="bold" font-size="14.5" fill="#111" textLength="40.5" lengthAdjust="spacingAndGlyphs">Value</text>
<defs><linearGradient id="vg" x1="0" y1="1" x2="0" y2="0"><stop offset="0" stop-color="#FFD4D4"/><stop offset="0.25" stop-color="#FFA29D"/><stop offset="0.5" stop-color="#FF7A70"/><stop offset="0.75" stop-color="#FF5144"/><stop offset="1" stop-color="#FF2A1C"/></linearGradient></defs>
<rect x="695.2" y="419.5" width="16" height="141.5" fill="url(#vg)"/>
<text x="714" y="569.80" font-family="Liberation Sans, sans-serif" font-size="14.5" fill="#111">0</text>
<rect x="695.2" y="528.69" width="3" height="1" fill="#fff" fill-opacity="0.8"/><rect x="708.2" y="528.69" width="3" height="1" fill="#fff" fill-opacity="0.8"/>
<text x="714" y="534.19" font-family="Liberation Sans, sans-serif" font-size="14.5" fill="#111">100</text>
<rect x="695.2" y="493.08" width="3" height="1" fill="#fff" fill-opacity="0.8"/><rect x="708.2" y="493.08" width="3" height="1" fill="#fff" fill-opacity="0.8"/>
<text x="714" y="498.58" font-family="Liberation Sans, sans-serif" font-size="14.5" fill="#111">200</text>
<rect x="695.2" y="457.47" width="3" height="1" fill="#fff" fill-opacity="0.8"/><rect x="708.2" y="457.47" width="3" height="1" fill="#fff" fill-opacity="0.8"/>
<text x="714" y="462.97" font-family="Liberation Sans, sans-serif" font-size="14.5" fill="#111">300</text>
<rect x="695.2" y="421.86" width="3" height="1" fill="#fff" fill-opacity="0.8"/><rect x="708.2" y="421.86" width="3" height="1" fill="#fff" fill-opacity="0.8"/>
<text x="714" y="427.36" font-family="Liberation Sans, sans-serif" font-size="14.5" fill="#111">400</text>
<text x="696" y="593" font-family="Liberation Sans, sans-serif" font-weight="bold" font-size="14" fill="#111" textLength="118.3" lengthAdjust="spacingAndGlyphs">log10(adjusted P)</text>
<rect x="696.3" y="600" width="13.6" height="15.30" fill="#D6F2F7"/>
<text x="714.5" y="612.25" font-family="Liberation Sans, sans-serif" font-size="13" fill="#111">(0,1]</text>
<rect x="696.3" y="615.3" width="13.6" height="14.30" fill="#C0EAE2"/>
<text x="714.5" y="627.05" font-family="Liberation Sans, sans-serif" font-size="13" fill="#111">(1,2]</text>
<rect x="696.3" y="629.6" width="13.6" height="14.70" fill="#8EDDB0"/>
<text x="714.5" y="641.55" font-family="Liberation Sans, sans-serif" font-size="13" fill="#111">(2,3]</text>
<rect x="696.3" y="644.3" width="13.6" height="14.00" fill="#2FCBC3"/>
<text x="714.5" y="655.90" font-family="Liberation Sans, sans-serif" font-size="13" fill="#111">&gt;3</text>
</svg></body></html>
